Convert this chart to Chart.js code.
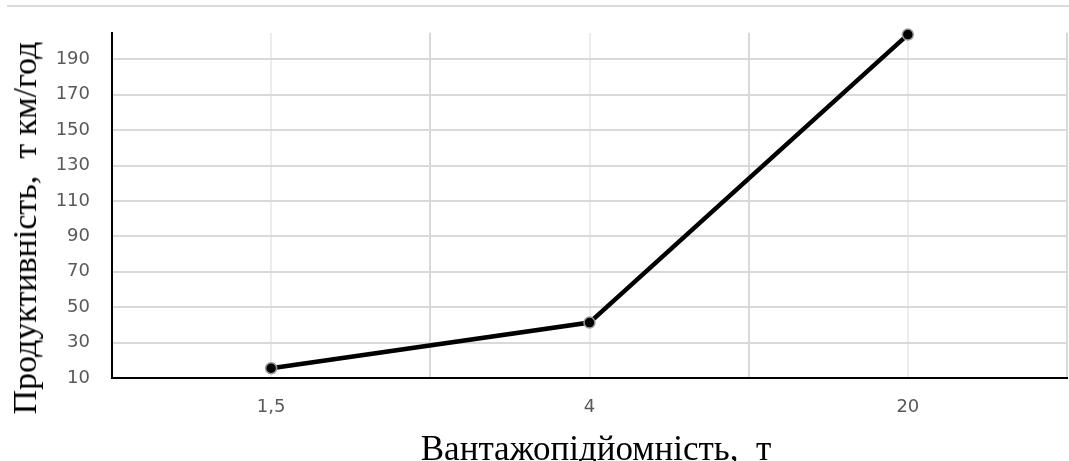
<!DOCTYPE html>
<html>
<head>
<meta charset="utf-8">
<script src="https://cdn.jsdelivr.net/npm/chart.js@4.4.1/dist/chart.umd.min.js"></script>
<style>
  html, body { margin: 0; padding: 0; background: #ffffff; }
  #wrap { position: relative; width: 1069px; height: 461px; }
  #topline { position: absolute; left: 7px; right: 0; top: 5px; height: 0; border-top: 2px solid #d9d9d9; }
  canvas { position: absolute; left: 0; top: 0; }
  .title { position: absolute; font-family: 'Liberation Serif', 'Times New Roman', serif; font-size: 34px; color: #000; white-space: pre; line-height: 1; }
  #xtitle { left: 596px; top: 448px; font-size: 35px; transform: translate(-50%, -50%); }
  #ytitle { left: 25px; top: 228px; transform: translate(-50%, -50%) rotate(-90deg); }
</style>
</head>
<body>
<div id="wrap">
  <div id="topline"></div>
  <canvas id="c" width="1069" height="461"></canvas>
  <div class="title" id="xtitle"></div>
  <div class="title" id="ytitle"></div>
</div>
<script>
// Data
const categories = ['1,5', '4', '20'];
const productivity = [15.5, 41.3, 204];
const yTickValues = [10, 30, 50, 70, 90, 110, 130, 150, 170, 190];
const xTitle = 'Вантажопідйомність,  т';
const yTitle = 'Продуктивність,  т км/год';

document.getElementById('xtitle').textContent = xTitle;
document.getElementById('ytitle').textContent = yTitle;

const ctx = document.getElementById('c').getContext('2d');
new Chart(ctx, {
  type: 'line',
  data: {
    labels: categories,
    datasets: [{
      data: productivity,
      borderColor: '#000000',
      borderWidth: 4.5,
      pointRadius: 5.5,
      pointBackgroundColor: '#000000',
      pointBorderColor: '#9a9a9a',
      pointBorderWidth: 1.5,
      tension: 0,
      fill: false,
      clip: false,
      xAxisID: 'x',
      yAxisID: 'y'
    }]
  },
  options: {
    responsive: false,
    animation: false,
    devicePixelRatio: 1,
    layout: { autoPadding: false, padding: { top: 32, right: 2, left: 0, bottom: 0 } },
    plugins: { legend: { display: false }, tooltip: { enabled: false } },
    scales: {
      x: {
        type: 'category',
        position: 'bottom',
        offset: true,
        grid: { offset: true, color: '#d9d9d9', lineWidth: 2, drawTicks: false },
        border: { display: true, color: '#000000', width: 2 },
        ticks: { color: '#595959', font: { family: 'DejaVu Sans', size: 18 }, padding: 19 },
        afterFit: (s) => { s.height = 83; }
      },
      x2: {
        type: 'category',
        position: 'top',
        offset: true,
        labels: categories,
        grid: { offset: false, color: '#ececec', lineWidth: 2, drawTicks: false },
        border: { display: false },
        ticks: { display: false },
        afterFit: (s) => { s.height = 0; }
      },
      y: {
        type: 'linear',
        min: 10,
        max: 205,
        afterBuildTicks: (s) => { s.ticks = yTickValues.map(v => ({ value: v })); },
        grid: { color: '#d9d9d9', lineWidth: 2, drawTicks: false },
        border: { display: true, color: '#000000', width: 2 },
        ticks: { color: '#595959', font: { family: 'DejaVu Sans', size: 18 }, padding: 22 },
        afterFit: (s) => { s.width = 112; }
      }
    }
  }
});
</script>
</body>
</html>
